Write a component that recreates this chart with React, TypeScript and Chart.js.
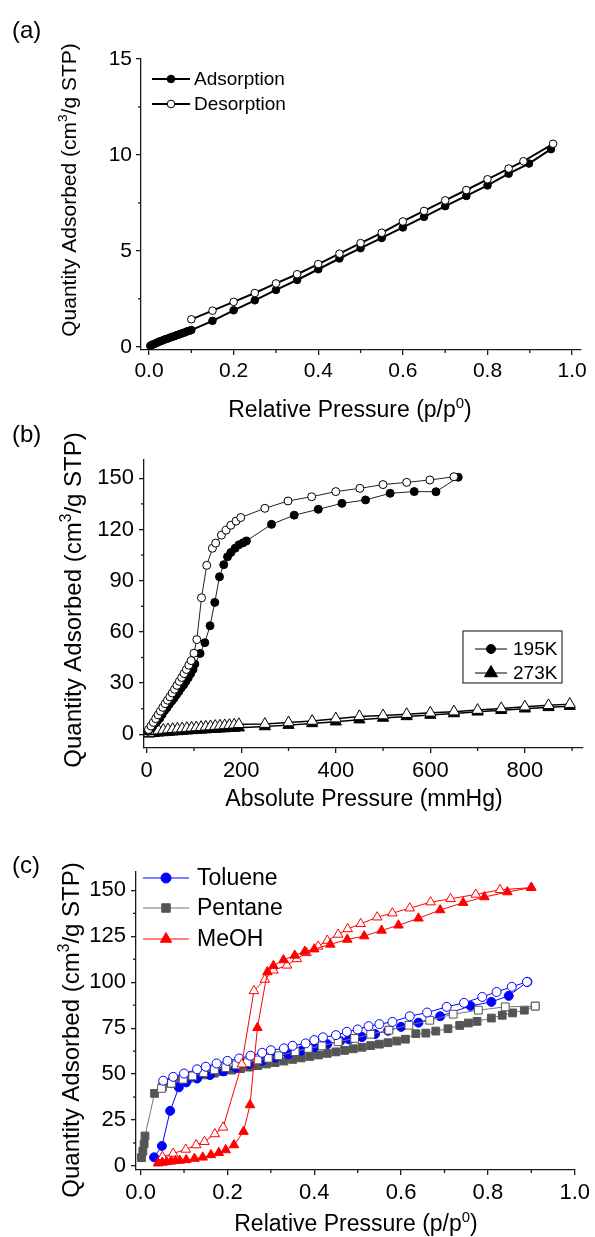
import React, { useEffect, useRef } from 'react';
import { Chart, registerables } from 'chart.js';
Chart.register(...registerables);

const FONT = '"Liberation Sans", Arial, Helvetica, sans-serif';
Chart.defaults.font.family = FONT;
Chart.defaults.color = '#000';

// ---------- Panel (a): N2-type isotherm, relative pressure ----------
const aAdsX = [0.003, 0.006, 0.01, 0.014, 0.018, 0.022, 0.026, 0.03, 0.035, 0.04, 0.045, 0.05, 0.055, 0.06, 0.065, 0.07, 0.075, 0.08, 0.085, 0.09, 0.095, 0.1, 0.15, 0.2, 0.25, 0.3, 0.35, 0.4, 0.45, 0.5, 0.55, 0.6, 0.65, 0.7, 0.75, 0.8, 0.85, 0.898, 0.95];
const aAdsY = [0.05, 0.08, 0.13, 0.16, 0.2, 0.25, 0.28, 0.31, 0.36, 0.4, 0.43, 0.48, 0.52, 0.55, 0.6, 0.63, 0.68, 0.71, 0.75, 0.8, 0.83, 0.87, 1.35, 1.9, 2.42, 2.96, 3.48, 4.04, 4.6, 5.14, 5.67, 6.22, 6.77, 7.33, 7.86, 8.41, 9.02, 9.55, 10.3];
const aDesX = [0.1, 0.15, 0.2, 0.25, 0.3, 0.35, 0.4, 0.45, 0.5, 0.55, 0.6, 0.65, 0.7, 0.75, 0.8, 0.85, 0.885, 0.955];
const aDesY = [1.43, 1.88, 2.34, 2.8, 3.3, 3.78, 4.31, 4.85, 5.4, 5.94, 6.53, 7.08, 7.63, 8.17, 8.73, 9.29, 9.67, 10.58];
const aXTicks = [0, 0.2, 0.4, 0.6, 0.8, 1.0];
const aYTicks = [0, 5, 10, 15];

// ---------- Panel (b): absolute pressure ----------
const b195AdsX = [3, 8, 13, 18, 23, 28, 33, 38, 43, 48, 53, 58, 63, 68, 73, 78, 83, 88, 93, 98, 102, 113, 123, 134, 144, 154, 163, 171, 178, 187, 195, 204, 211, 264, 312, 363, 413, 463, 515, 566, 612, 659];
const b195AdsY = [1.8, 3.4, 5.0, 6.6, 8.0, 9.5, 11.8, 14.0, 15.6, 17.7, 19.5, 21.2, 23.2, 25.1, 27.2, 28.9, 31.0, 33.2, 35.5, 38.0, 41.2, 47.4, 53.7, 63.6, 77.3, 92.3, 99.4, 104, 106.5, 109, 111, 112.2, 113.3, 123, 128.4, 131.8, 135.3, 137.3, 141.2, 142.2, 142.1, 150.6];
const b195DesX = [4, 9, 14, 19, 24, 29, 34, 39, 44, 49, 54, 59, 64, 69, 74, 79, 84, 89, 94, 100, 106, 116, 127, 139, 146, 158, 168, 178, 189, 199, 250, 299, 349, 400, 451, 500, 550, 599, 650];
const b195DesY = [2.8, 4.9, 7.0, 9.2, 11.4, 13.6, 15.8, 18.0, 20.0, 22.0, 24.2, 26.4, 28.7, 31.0, 33.3, 35.6, 38.0, 40.5, 43.2, 47.5, 55.5, 80, 99, 109, 112, 116.7, 119.6, 122.5, 124.9, 127, 132.4, 136.7, 139.2, 142.2, 144.1, 146.3, 147.6, 149, 150.9];
const b273AdsX = [5, 15, 25, 35, 45, 55, 65, 75, 85, 95, 105, 115, 125, 135, 145, 155, 165, 175, 185, 195, 250, 300, 350, 400, 450, 500, 550, 600, 650, 700, 750, 800, 850, 895];
const b273AdsY = [0.3, 0.6, 0.9, 1.1, 1.3, 1.5, 1.7, 1.9, 2.1, 2.3, 2.5, 2.6, 2.8, 3.0, 3.1, 3.3, 3.4, 3.6, 3.7, 3.9, 4.6, 5.4, 6.4, 7.4, 8.6, 9.6, 10.5, 11.3, 12.2, 13.2, 14.1, 15.0, 15.8, 16.5];
const b273DesX = [5, 15, 25, 35, 45, 55, 65, 75, 85, 95, 105, 115, 125, 135, 145, 155, 165, 175, 185, 195, 250, 300, 350, 400, 450, 500, 550, 600, 650, 700, 750, 800, 850, 895];
const b273DesY = [0.8, 1.8, 2.2, 2.5, 2.8, 3.0, 3.2, 3.4, 3.6, 3.8, 4.0, 4.2, 4.4, 4.6, 4.8, 5.0, 5.2, 5.4, 5.6, 5.9, 6.0, 6.9, 7.8, 9.2, 10.5, 11.0, 11.8, 12.6, 13.3, 14.2, 15.2, 16.2, 17.0, 17.7];
const bXTicks = [0, 200, 400, 600, 800];
const bYTicks = [0, 30, 60, 90, 120, 150];

// ---------- Panel (c): vapours ----------
const tolAdsX = [0.031, 0.049, 0.068, 0.088, 0.105, 0.13, 0.16, 0.19, 0.22, 0.25, 0.28, 0.31, 0.34, 0.37, 0.4, 0.43, 0.46, 0.48, 0.51, 0.54, 0.57, 0.6, 0.64, 0.69, 0.76, 0.808, 0.848, 0.891];
const tolAdsY = [4.7, 10.9, 30, 42.8, 45.5, 47.6, 49.5, 51.5, 53.4, 55.5, 57.3, 59, 60.8, 62.7, 64.5, 66.3, 68, 68.9, 70.2, 71.8, 73.6, 75.7, 78, 81.5, 87.1, 89.3, 92.6, 100.2];
const tolDesX = [0.052, 0.075, 0.1, 0.13, 0.15, 0.175, 0.2, 0.227, 0.253, 0.28, 0.3, 0.33, 0.35, 0.38, 0.4, 0.42, 0.45, 0.475, 0.5, 0.525, 0.55, 0.58, 0.62, 0.66, 0.705, 0.745, 0.787, 0.82, 0.855, 0.89];
const tolDesY = [46.4, 48.5, 50.3, 52.6, 54, 55.8, 57.2, 58.5, 60, 61.6, 63, 64, 65.4, 66.7, 68.5, 70, 71.2, 73, 74.3, 76.1, 77.2, 78.4, 81.5, 83.5, 86.6, 88.8, 92, 94.7, 97.5, 100.2];
const penAdsX = [0.002, 0.005, 0.008, 0.01, 0.032, 0.05, 0.07, 0.09, 0.11, 0.13, 0.15, 0.17, 0.19, 0.21, 0.23, 0.25, 0.27, 0.29, 0.31, 0.33, 0.35, 0.37, 0.39, 0.41, 0.43, 0.45, 0.47, 0.49, 0.51, 0.53, 0.55, 0.57, 0.59, 0.61, 0.634, 0.657, 0.68, 0.708, 0.735, 0.755, 0.775, 0.808, 0.833, 0.857, 0.884, 0.909];
const penAdsY = [4.5, 8, 12, 16.3, 39.5, 43, 45, 46.5, 47.6, 48.6, 49.6, 50.5, 51.4, 52.2, 53, 53.8, 54.6, 55.5, 56.3, 57.1, 58, 58.8, 59.6, 60.4, 61.3, 62.1, 62.9, 63.8, 64.6, 65.5, 66.3, 67.1, 68, 69, 72, 72.3, 73.4, 74.7, 76.5, 77.8, 78.7, 80.5, 82, 83.3, 84.8, 87];
const penDesX = [0.048, 0.071, 0.098, 0.12, 0.145, 0.17, 0.196, 0.22, 0.245, 0.27, 0.294, 0.318, 0.356, 0.386, 0.418, 0.455, 0.493, 0.53, 0.572, 0.618, 0.666, 0.72, 0.778, 0.84, 0.909];
const penDesY = [42.2, 45, 47.2, 49, 50.8, 52.3, 53.5, 55, 56.2, 57.7, 58.6, 60, 62.2, 64, 65.4, 67.6, 69.4, 71.7, 73.9, 76.6, 79.3, 82.6, 84.8, 86.6, 87];
const meoAdsX = [0.04, 0.05, 0.06, 0.07, 0.08, 0.09, 0.105, 0.124, 0.143, 0.162, 0.18, 0.196, 0.215, 0.237, 0.252, 0.269, 0.292, 0.306, 0.329, 0.355, 0.378, 0.4, 0.437, 0.476, 0.515, 0.555, 0.594, 0.64, 0.69, 0.743, 0.792, 0.845, 0.9];
const meoAdsY = [1.5, 1.9, 2.2, 2.5, 2.8, 3.0, 3.3, 4, 4.7, 6, 7.2, 8.7, 11.4, 18.7, 33.2, 75.2, 105.6, 109, 112.1, 114.6, 116.7, 118, 120.6, 123.3, 125.1, 128.2, 131, 134.8, 139.3, 143.3, 146.4, 149.1, 151.5];
const meoDesX = [0.05, 0.075, 0.104, 0.128, 0.147, 0.171, 0.19, 0.233, 0.261, 0.286, 0.306, 0.337, 0.36, 0.382, 0.409, 0.43, 0.455, 0.477, 0.507, 0.545, 0.58, 0.62, 0.668, 0.714, 0.772, 0.828, 0.9];
const meoDesY = [5, 6.8, 9, 11.4, 13.2, 17.4, 21, 55.4, 95.3, 101.5, 106.5, 109.2, 112.7, 116, 119.5, 122.7, 126, 129, 131.8, 135.4, 137.6, 140.3, 143.6, 145.4, 147.8, 150.3, 151.5];
const cXTicks = [0, 0.2, 0.4, 0.6, 0.8, 1.0];
const cYTicks = [0, 25, 50, 75, 100, 125, 150];

const mids = (t: number[], extraEnd = false) => {
  const out: number[] = [];
  for (let i = 0; i < t.length - 1; i++) out.push((t[i] + t[i + 1]) / 2);
  if (extraEnd) out.push(t[t.length - 1] + (t[1] - t[0]) / 2);
  return out;
};

const zip = (xs: number[], ys: number[]) => xs.map((x, i) => ({ x, y: ys[i] }));

type Seg = { t: string; sup?: boolean };
type TextItem = { segs: Seg[]; x: number; y: number; size: number; rotate?: boolean; align?: 'left' | 'center' };
type LegendItem = { label: string; shape: string; fill: string; stroke: string; line: string; lw: number; r: number; x1: number; x2: number; tx: number; y: number };

const drawMarker = (ctx: CanvasRenderingContext2D, shape: string, x: number, y: number, r: number, fill: string, stroke: string, lw: number) => {
  ctx.beginPath();
  if (shape === 'circle') ctx.arc(x, y, r, 0, Math.PI * 2);
  else if (shape === 'rect') {
    const s = r * Math.SQRT1_2;
    ctx.rect(x - s, y - s, 2 * s, 2 * s);
  } else {
    ctx.moveTo(x, y - r);
    ctx.lineTo(x + 0.866 * r, y + 0.5 * r);
    ctx.lineTo(x - 0.866 * r, y + 0.5 * r);
    ctx.closePath();
  }
  ctx.fillStyle = fill;
  ctx.fill();
  ctx.lineWidth = lw;
  ctx.strokeStyle = stroke;
  ctx.stroke();
};

const drawRich = (ctx: CanvasRenderingContext2D, it: TextItem) => {
  ctx.save();
  ctx.translate(it.x, it.y);
  if (it.rotate) ctx.rotate(-Math.PI / 2);
  ctx.fillStyle = '#000';
  ctx.textBaseline = 'alphabetic';
  ctx.textAlign = 'left';
  const widths = it.segs.map((s) => {
    ctx.font = `${s.sup ? it.size * 0.65 : it.size}px ${FONT}`;
    return ctx.measureText(s.t).width;
  });
  const total = widths.reduce((a, b) => a + b, 0);
  let x = it.align === 'left' ? 0 : -total / 2;
  const base = it.size * 0.36;
  it.segs.forEach((s, i) => {
    ctx.font = `${s.sup ? it.size * 0.65 : it.size}px ${FONT}`;
    ctx.fillText(s.t, x, s.sup ? base - it.size * 0.42 : base);
    x += widths[i];
  });
  ctx.restore();
};

type Spec = {
  top: number; height: number; padTop: number; padRight: number; yWidth: number; xHeight: number;
  xMin: number; xMax: number; xTicks: number[]; xMinor: number[]; xFmt: (v: number) => string;
  yMin: number; yMax: number; yTicks: number[]; yMinor: number[];
  tickSize: number; xPad: number; yPad: number;
  datasets: any[]; texts: TextItem[]; legend: LegendItem[]; legendBox?: [number, number, number, number]; legendSize: number;
};

const AXIS = '#1a1a1a';

const buildConfig = (sp: Spec): any => {
  const decor = {
    id: 'decor',
    afterDraw(chart: any) {
      const ctx: CanvasRenderingContext2D = chart.ctx;
      const xs = chart.scales.x;
      const ys = chart.scales.y;
      const ca = chart.chartArea;
      ctx.save();
      ctx.strokeStyle = AXIS;
      ctx.lineWidth = 1.3;
      sp.xMinor.forEach((v) => {
        const p = xs.getPixelForValue(v);
        ctx.beginPath();
        ctx.moveTo(p, ca.bottom);
        ctx.lineTo(p, ca.bottom + 3);
        ctx.stroke();
      });
      sp.yMinor.forEach((v) => {
        const p = ys.getPixelForValue(v);
        ctx.beginPath();
        ctx.moveTo(ca.left - 3, p);
        ctx.lineTo(ca.left, p);
        ctx.stroke();
      });
      sp.texts.forEach((t) => drawRich(ctx, t));
      if (sp.legendBox) {
        const [bx, by, bw, bh] = sp.legendBox;
        ctx.strokeStyle = '#333';
        ctx.lineWidth = 1.2;
        ctx.strokeRect(bx, by, bw, bh);
      }
      sp.legend.forEach((l) => {
        ctx.strokeStyle = l.line;
        ctx.lineWidth = l.lw;
        ctx.beginPath();
        ctx.moveTo(l.x1, l.y);
        ctx.lineTo(l.x2, l.y);
        ctx.stroke();
        drawMarker(ctx, l.shape, (l.x1 + l.x2) / 2, l.y, l.r, l.fill, l.stroke, 1);
        ctx.fillStyle = '#000';
        ctx.font = `${sp.legendSize}px ${FONT}`;
        ctx.textAlign = 'left';
        ctx.textBaseline = 'middle';
        ctx.fillText(l.label, l.tx, l.y + 1);
      });
      ctx.restore();
    },
  };
  const tickFont = { size: sp.tickSize, family: FONT };
  return {
    type: 'scatter',
    data: { datasets: sp.datasets },
    options: {
      responsive: false,
      animation: false,
      events: [],
      devicePixelRatio: 1,
      layout: { padding: { top: sp.padTop, right: sp.padRight, left: 0, bottom: 0 }, autoPadding: false },
      plugins: { legend: { display: false }, tooltip: { enabled: false }, title: { display: false } },
      scales: {
        x: {
          type: 'linear', min: sp.xMin, max: sp.xMax,
          afterBuildTicks: (s: any) => { s.ticks = sp.xTicks.map((v) => ({ value: v })); },
          afterFit: (s: any) => { s.height = sp.xHeight; },
          ticks: { font: tickFont, color: '#000', padding: sp.xPad, maxRotation: 0, autoSkip: false, callback: (v: any) => sp.xFmt(Number(v)) },
          grid: { drawOnChartArea: false, drawTicks: true, tickLength: 5, color: AXIS, lineWidth: 1.3 },
          border: { display: true, color: AXIS, width: 1.3 },
        },
        y: {
          type: 'linear', min: sp.yMin, max: sp.yMax,
          afterBuildTicks: (s: any) => { s.ticks = sp.yTicks.map((v) => ({ value: v })); },
          afterFit: (s: any) => { s.width = sp.yWidth; },
          ticks: { font: tickFont, color: '#000', padding: sp.yPad, autoSkip: false, callback: (v: any) => String(v) },
          grid: { drawOnChartArea: false, drawTicks: true, tickLength: 5, color: AXIS, lineWidth: 1.3 },
          border: { display: true, color: AXIS, width: 1.3 },
        },
      },
    },
    plugins: [decor],
  };
};

const ds = (label: string, xs: number[], ys: number[], o: any) => ({
  label,
  data: zip(xs, ys),
  showLine: true,
  borderColor: o.line,
  borderWidth: o.lw,
  pointStyle: o.shape,
  pointRadius: o.r,
  pointHoverRadius: o.r,
  pointBackgroundColor: o.fill,
  pointBorderColor: o.stroke,
  pointBorderWidth: o.pbw ?? 1,
  fill: false,
  tension: 0,
  clip: false,
  order: o.order,
});

const yTitle = (x: number, y: number, size: number): TextItem => ({
  segs: [{ t: 'Quantity Adsorbed (cm' }, { t: '3', sup: true }, { t: '/g STP)' }], x, y, size, rotate: true,
});
const relTitle = (x: number, y: number, size: number): TextItem => ({
  segs: [{ t: 'Relative Pressure (p/p' }, { t: '0', sup: true }, { t: ')' }], x, y, size,
});

const fmt1 = (v: number) => v.toFixed(1);

const specA: Spec = {
  top: 0, height: 430, padTop: 59, padRight: 14, yWidth: 141, xHeight: 80,
  xMin: -0.019, xMax: 1.021, xTicks: aXTicks, xMinor: mids(aXTicks), xFmt: fmt1,
  yMin: -0.17, yMax: 15, yTicks: aYTicks, yMinor: mids(aYTicks),
  tickSize: 21, xPad: 4, yPad: 4,
  datasets: [
    ds('Adsorption', aAdsX, aAdsY, { line: '#000', lw: 2, shape: 'circle', r: 3.8, fill: '#000', stroke: '#000', order: 2 }),
    ds('Desorption', aDesX, aDesY, { line: '#000', lw: 2, shape: 'circle', r: 3.8, fill: '#fff', stroke: '#000', order: 1 }),
  ],
  texts: [
    { segs: [{ t: '(a)' }], x: 12, y: 29, size: 24, align: 'left' },
    relTitle(350, 409, 23),
    yTitle(68, 190, 21),
  ],
  legend: [
    { label: 'Adsorption', shape: 'circle', fill: '#000', stroke: '#000', line: '#000', lw: 2, r: 3.8, x1: 152, x2: 190, tx: 194, y: 79 },
    { label: 'Desorption', shape: 'circle', fill: '#fff', stroke: '#000', line: '#000', lw: 2, r: 3.8, x1: 152, x2: 190, tx: 194, y: 104 },
  ],
  legendSize: 19,
};

const specB: Spec = {
  top: 405, height: 425, padTop: 55, padRight: 12, yWidth: 144, xHeight: 82,
  xMin: -5.7, xMax: 923, xTicks: bXTicks, xMinor: mids(bXTicks, true), xFmt: (v) => String(v),
  yMin: -8, yMax: 160.7, yTicks: bYTicks, yMinor: mids(bYTicks),
  tickSize: 22, xPad: 5, yPad: 5,
  datasets: [
    ds('195K ads', b195AdsX, b195AdsY, { line: '#222', lw: 1, shape: 'circle', r: 4, fill: '#000', stroke: '#000', order: 2 }),
    ds('195K des', b195DesX, b195DesY, { line: '#222', lw: 1, shape: 'circle', r: 4, fill: '#fff', stroke: '#000', order: 1 }),
    ds('273K ads', b273AdsX, b273AdsY, { line: '#000', lw: 1.5, shape: 'triangle', r: 6.5, fill: '#000', stroke: '#000', order: 4 }),
    ds('273K des', b273DesX, b273DesY, { line: '#000', lw: 1.5, shape: 'triangle', r: 6.5, fill: '#fff', stroke: '#000', order: 3 }),
  ],
  texts: [
    { segs: [{ t: '(b)' }], x: 12, y: 28, size: 24, align: 'left' },
    { segs: [{ t: 'Absolute Pressure (mmHg)' }], x: 364, y: 393, size: 23 },
    yTitle(72, 195, 24),
  ],
  legend: [
    { label: '195K', shape: 'circle', fill: '#000', stroke: '#000', line: '#000', lw: 1, r: 4.5, x1: 475, x2: 507, tx: 513, y: 244 },
    { label: '273K', shape: 'triangle', fill: '#000', stroke: '#000', line: '#000', lw: 1, r: 7.5, x1: 475, x2: 507, tx: 513, y: 268 },
  ],
  legendBox: [463, 226, 99, 52],
  legendSize: 19,
};

const BLUE = '#0000ff';
const GRAY = '#555555';
const RED = '#ff0000';

const specC: Spec = {
  top: 830, height: 407, padTop: 42, padRight: 17, yWidth: 136, xHeight: 67,
  xMin: -0.0107, xMax: 1.0, xTicks: cXTicks, xMinor: mids(cXTicks), xFmt: fmt1,
  yMin: -2.2, yMax: 160, yTicks: cYTicks, yMinor: mids(cYTicks),
  tickSize: 22, xPad: 5, yPad: 5,
  datasets: [
    ds('Pentane ads', penAdsX, penAdsY, { line: '#777', lw: 1, shape: 'rect', r: 5.5, fill: (c: any) => (c.dataIndex === penAdsX.length - 1 ? '#000' : GRAY), stroke: GRAY, order: 6 }),
    ds('Toluene ads', tolAdsX, tolAdsY, { line: BLUE, lw: 1, shape: 'circle', r: 4.5, fill: BLUE, stroke: BLUE, order: 5 }),
    ds('Pentane des', penDesX, penDesY, { line: '#777', lw: 1, shape: 'rect', r: 5.5, fill: '#fff', stroke: GRAY, order: 4 }),
    ds('Toluene des', tolDesX, tolDesY, { line: BLUE, lw: 1, shape: 'circle', r: 4.5, fill: '#fff', stroke: BLUE, order: 3 }),
    ds('MeOH des', meoDesX, meoDesY, { line: RED, lw: 1, shape: 'triangle', r: 5.5, fill: '#fff', stroke: RED, order: 2 }),
    ds('MeOH ads', meoAdsX, meoAdsY, { line: RED, lw: 1, shape: 'triangle', r: 5.5, fill: RED, stroke: RED, order: 1 }),
  ],
  texts: [
    { segs: [{ t: '(c)' }], x: 12, y: 34, size: 24, align: 'left' },
    relTitle(356, 393, 23),
    yTitle(70, 200, 24),
  ],
  legend: [
    { label: 'Toluene', shape: 'circle', fill: BLUE, stroke: BLUE, line: BLUE, lw: 1, r: 5, x1: 143, x2: 189, tx: 197, y: 48 },
    { label: 'Pentane', shape: 'rect', fill: GRAY, stroke: GRAY, line: '#777', lw: 1, r: 6, x1: 143, x2: 189, tx: 197, y: 78 },
    { label: 'MeOH', shape: 'triangle', fill: RED, stroke: RED, line: RED, lw: 1, r: 6.5, x1: 143, x2: 189, tx: 197, y: 109 },
  ],
  legendSize: 23,
};

function Panel({ spec }: { spec: Spec }) {
  const ref = useRef<HTMLCanvasElement>(null);
  useEffect(() => {
    if (!ref.current) return;
    const chart = new Chart(ref.current, buildConfig(spec));
    return () => chart.destroy();
  }, [spec]);
  return (
    <canvas
      ref={ref}
      width={595}
      height={spec.height}
      style={{ position: 'absolute', left: 0, top: spec.top, width: 595, height: spec.height }}
    />
  );
}

export default function App() {
  return (
    <div style={{ position: 'absolute', left: 0, top: 0, width: 595, height: 1237, background: '#fff' }}>
      <Panel spec={specA} />
      <Panel spec={specB} />
      <Panel spec={specC} />
    </div>
  );
}
